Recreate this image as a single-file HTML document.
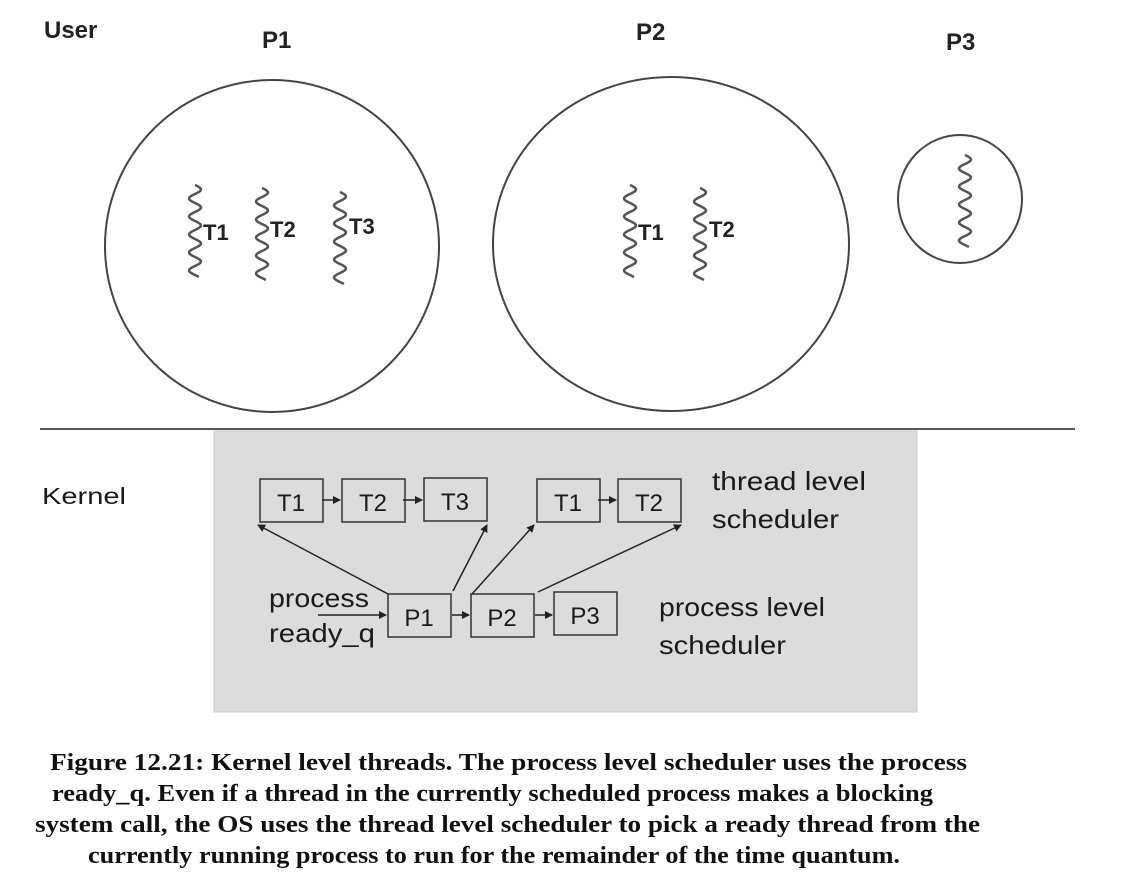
<!DOCTYPE html>
<html><head><meta charset="utf-8"><style>
body{margin:0;background:#fff;}
svg{display:block;}
.lbl{font-family:"Liberation Sans",sans-serif;font-weight:bold;fill:#222;}
.k{font-family:"Liberation Sans",sans-serif;fill:#1a1a1a;}
.cap{font-family:"Liberation Serif",serif;font-weight:bold;font-size:24px;fill:#111;}
</style></head><body>
<svg id="s" width="1122" height="882" viewBox="0 0 1122 882">
<defs><marker id="ah" markerWidth="8" markerHeight="8" refX="7" refY="4" orient="auto" markerUnits="userSpaceOnUse"><path d="M0,0 L8,4 L0,8z" fill="#222"/></marker></defs>
<text class="lbl" x="44" y="38" font-size="24">User</text>
<text class="lbl" x="262" y="48" font-size="24">P1</text>
<text class="lbl" x="636" y="40" font-size="24">P2</text>
<text class="lbl" x="946" y="50" font-size="24">P3</text>
<ellipse cx="272" cy="246" rx="167" ry="166" fill="none" stroke="#444" stroke-width="2"/>
<ellipse cx="671" cy="244" rx="178" ry="167" fill="none" stroke="#444" stroke-width="2"/>
<ellipse cx="960" cy="199" rx="62" ry="64" fill="none" stroke="#444" stroke-width="2"/>
<g id="wig"></g>
<text class="lbl" x="203" y="240" font-size="22">T1</text>
<text class="lbl" x="270" y="237" font-size="22">T2</text>
<text class="lbl" x="349" y="234" font-size="22">T3</text>
<text class="lbl" x="638" y="240" font-size="22">T1</text>
<text class="lbl" x="709" y="237" font-size="22">T2</text>
<line x1="40" y1="429" x2="1075" y2="429" stroke="#555" stroke-width="2"/>
<rect x="214" y="431" width="703" height="281" fill="#dcdcdc" stroke="#ccc"/>
<text class="k" x="42" y="504" font-size="23" textLength="84" lengthAdjust="spacingAndGlyphs">Kernel</text>
<g id="boxes"></g>
<g stroke="#222" stroke-width="1.5" fill="none">
<line x1="322" y1="500" x2="340" y2="500" marker-end="url(#ah)"/>
<line x1="403" y1="500" x2="422" y2="500" marker-end="url(#ah)"/>
<line x1="598" y1="500" x2="616" y2="500" marker-end="url(#ah)"/>
<line x1="452" y1="615" x2="469" y2="615" marker-end="url(#ah)"/>
<line x1="535" y1="615" x2="552" y2="615" marker-end="url(#ah)"/>
<line x1="318" y1="615" x2="386" y2="615" marker-end="url(#ah)"/>
<line x1="388" y1="594" x2="258" y2="525" marker-end="url(#ah)"/>
<line x1="453" y1="591" x2="487" y2="525" marker-end="url(#ah)"/>
<line x1="472" y1="594" x2="534" y2="525" marker-end="url(#ah)"/>
<line x1="538" y1="592" x2="681" y2="525" marker-end="url(#ah)"/>
</g>
<text class="k" x="712" y="490" font-size="26" textLength="154" lengthAdjust="spacingAndGlyphs">thread level</text>
<text class="k" x="712" y="528" font-size="26" textLength="127" lengthAdjust="spacingAndGlyphs">scheduler</text>
<text class="k" x="269" y="607" font-size="26" textLength="100" lengthAdjust="spacingAndGlyphs">process</text>
<text class="k" x="269" y="642" font-size="26" textLength="106" lengthAdjust="spacingAndGlyphs">ready_q</text>
<text class="k" x="659" y="616" font-size="26" textLength="166" lengthAdjust="spacingAndGlyphs">process level</text>
<text class="k" x="659" y="654" font-size="26" textLength="127" lengthAdjust="spacingAndGlyphs">scheduler</text>
<g>
<text class="cap" x="50" y="770" textLength="917" lengthAdjust="spacingAndGlyphs">Figure 12.21: Kernel level threads.  The process level scheduler uses the process</text>
<text class="cap" x="52" y="801" textLength="881" lengthAdjust="spacingAndGlyphs">ready_q.  Even if a thread in the currently scheduled process makes a blocking</text>
<text class="cap" x="35" y="832" textLength="945" lengthAdjust="spacingAndGlyphs">system call, the OS uses the thread level scheduler to pick a ready thread from the</text>
<text class="cap" x="88" y="863" textLength="812" lengthAdjust="spacingAndGlyphs">currently running process to run for the remainder of the time quantum.</text>
</g>
</svg>
<script>
const NS="http://www.w3.org/2000/svg";
const wigX=[195,262,340,630,700,965];
const wigY=[185,188,192,185,188,155];
const wigN=["p1-t1-thread","p1-t2-thread","p1-t3-thread","p2-t1-thread","p2-t2-thread","p3-thread"];
const g=document.getElementById('wig');
wigX.forEach((x,i)=>{let d="",y0=wigY[i];for(let t=0;t<=92;t+=1){const xx=x+6*Math.sin(t/18*2*Math.PI);d+=(t?"L":"M")+xx.toFixed(1)+","+(y0+t);}
const p=document.createElementNS(NS,'path');p.setAttribute('d',d);p.setAttribute('fill','none');p.setAttribute('stroke','#555');p.setAttribute('stroke-width','2.5');


g.appendChild(p);});
const bx=[260,342,424,537,618,388,471,554];
const by=[479,479,478,479,479,594,594,592];
const bl=["T1","T2","T3","T1","T2","P1","P2","P3"];
const bn=["kq-p1-t1","kq-p1-t2","kq-p1-t3","kq-p2-t1","kq-p2-t2","ready-q-p1","ready-q-p2","ready-q-p3"];
const bg=document.getElementById('boxes');
bx.forEach((x,i)=>{const r=document.createElementNS(NS,'rect');r.setAttribute('x',x);r.setAttribute('y',by[i]);r.setAttribute('width',63);r.setAttribute('height',43);r.setAttribute('fill','#dcdcdc');r.setAttribute('stroke','#333');r.setAttribute('stroke-width','1.5');


bg.appendChild(r);
const t=document.createElementNS(NS,'text');t.setAttribute('x',x+31);t.setAttribute('y',by[i]+32);t.setAttribute('text-anchor','middle');t.setAttribute('class','k');t.setAttribute('font-size','24');t.textContent=bl[i];


bg.appendChild(t);});
</script>
</body></html>
